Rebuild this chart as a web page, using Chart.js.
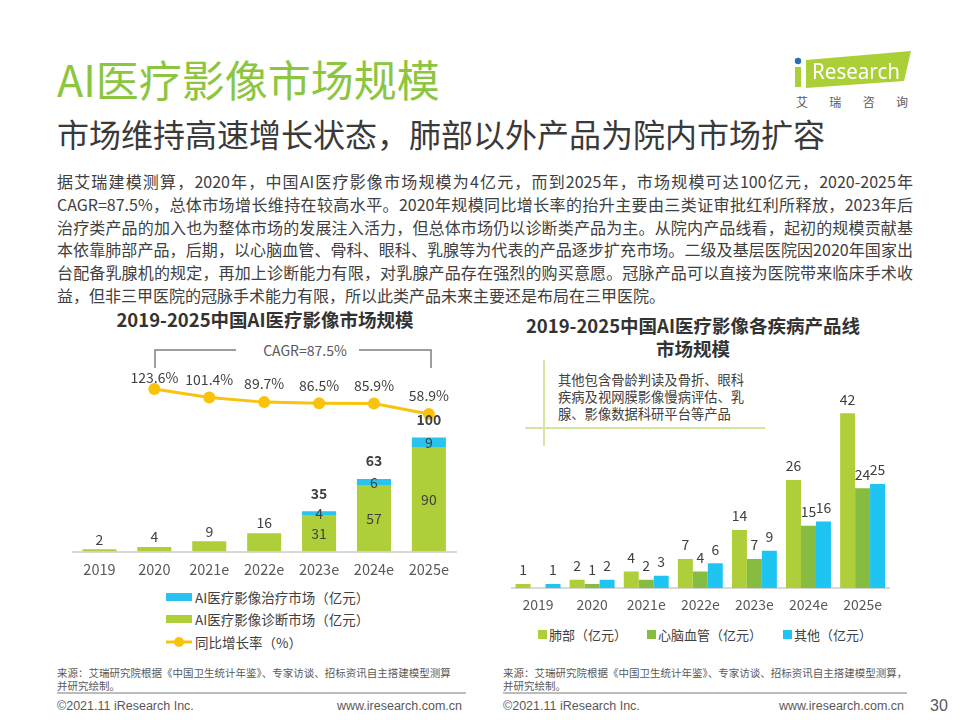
<!DOCTYPE html>
<html>
<head>
<meta charset="utf-8">
<script src="https://cdn.jsdelivr.net/npm/chart.js@4.4.1/dist/chart.umd.min.js"></script>
<style>
body { margin: 0; background: #fff; }
#page { position: relative; width: 960px; height: 720px; overflow: hidden; background: #fff;
  font-family: "Noto Sans CJK SC", "Noto Sans", sans-serif; color: #404040; }
.abs { position: absolute; white-space: nowrap; }
.para div { width: 856px; text-align: justify; text-align-last: justify; height: 22.8px; }
.para div.last { text-align-last: left; }
.lg { position: absolute; display: flex; align-items: center; height: 20px; font-size: 13.5px; white-space: nowrap; }
.foot { font-family: "Liberation Sans Narrow", "Liberation Sans", sans-serif; color: #595959; }
canvas { position: absolute; }
</style>
</head>
<body>
<div id="page">
  <div class="abs" style="left:57px;top:56px;font-size:43px;line-height:44px;color:#8cc63f;">AI医疗影像市场规模</div>
  <div class="abs" style="left:57px;top:116px;font-size:32px;line-height:34px;color:#3a3a3a;">市场维持高速增长状态，肺部以外产品为院内市场扩容</div>

  <div class="abs" style="left:796px;top:94px;width:112px;display:flex;justify-content:space-between;font-size:12px;line-height:16px;color:#595959;">
    <span>艾</span><span>瑞</span><span>咨</span><span>询</span>
  </div>

  <div class="abs para" style="left:57px;top:170px;font-size:16px;line-height:22.8px;color:#404040;white-space:normal;">
    <div>据艾瑞建模测算，2020年，中国AI医疗影像市场规模为4亿元，而到2025年，市场规模可达100亿元，2020-2025年</div>
    <div>CAGR=87.5%，总体市场增长维持在较高水平。2020年规模同比增长率的抬升主要由三类证审批红利所释放，2023年后</div>
    <div>治疗类产品的加入也为整体市场的发展注入活力，但总体市场仍以诊断类产品为主。从院内产品线看，起初的规模贡献基</div>
    <div>本依靠肺部产品，后期，以心脑血管、骨科、眼科、乳腺等为代表的产品逐步扩充市场。二级及基层医院因2020年国家出</div>
    <div>台配备乳腺机的规定，再加上诊断能力有限，对乳腺产品存在强烈的购买意愿。冠脉产品可以直接为医院带来临床手术收</div>
    <div class="last">益，但非三甲医院的冠脉手术能力有限，所以此类产品未来主要还是布局在三甲医院。</div>
  </div>

  <!-- left chart -->
  <div class="abs" style="left:65px;width:400px;text-align:center;top:308px;font-size:18.5px;line-height:22px;font-weight:bold;color:#333;">2019-2025中国AI医疗影像市场规模</div>
  <div class="abs" style="left:255px;width:100px;text-align:center;top:341px;font-size:14px;line-height:18px;color:#595959;background:#fff;">CAGR=87.5%</div>
  <canvas id="leftChart" width="386" height="247" style="left:72px;top:340px;"></canvas>

  <div class="lg" style="left:166px;top:587px;"><span style="display:inline-block;width:26px;height:8px;background:#29c3ee;"></span><span style="margin-left:3px;">AI医疗影像治疗市场（亿元）</span></div>
  <div class="lg" style="left:166px;top:609px;"><span style="display:inline-block;width:26px;height:8px;background:#afcf3a;"></span><span style="margin-left:3px;">AI医疗影像诊断市场（亿元）</span></div>
  <div class="lg" style="left:166px;top:632px;"><svg width="26" height="12"><line x1="0" y1="6" x2="26" y2="6" stroke="#f9c30c" stroke-width="3"/><circle cx="13" cy="6" r="5" fill="#f9c30c"/></svg><span style="margin-left:3px;">同比增长率（%）</span></div>

  <!-- right chart -->
  <div class="abs" style="left:493px;width:400px;text-align:center;top:314px;font-size:18.5px;line-height:22.5px;font-weight:bold;color:#333;">2019-2025中国AI医疗影像各疾病产品线<br>市场规模</div>
  <div class="abs" style="left:558px;top:371px;font-size:13.3px;line-height:17px;color:#404040;">其他包含骨龄判读及骨折、眼科<br>疾病及视网膜影像慢病评估、乳<br>腺、影像数据科研平台等产品</div>
  <canvas id="rightChart" width="379" height="241" style="left:511px;top:380px;"></canvas>

  <div class="lg" style="left:538px;top:624px;font-size:13px;"><span style="display:inline-block;width:9px;height:9px;background:#afcf3a;"></span><span style="margin-left:2px;">肺部（亿元）</span></div>
  <div class="lg" style="left:647px;top:624px;font-size:13px;"><span style="display:inline-block;width:9px;height:9px;background:#86bc42;"></span><span style="margin-left:2px;">心脑血管（亿元）</span></div>
  <div class="lg" style="left:783px;top:624px;font-size:13px;"><span style="display:inline-block;width:9px;height:9px;background:#1ec5f2;"></span><span style="margin-left:2px;">其他（亿元）</span></div>

  <!-- footer -->
  <div class="abs" style="left:57px;top:666px;font-size:10.5px;line-height:13px;color:#595959;">来源：艾瑞研究院根据《中国卫生统计年鉴》、专家访谈、招标资讯自主搭建模型测算<br>并研究绘制。</div>
  <div class="abs" style="left:503px;top:666px;font-size:10.5px;line-height:13px;color:#595959;">来源：艾瑞研究院根据《中国卫生统计年鉴》、专家访谈、招标资讯自主搭建模型测算，<br>并研究绘制。</div>
  <div class="abs foot" style="left:57px;top:698px;font-size:12.5px;line-height:16px;">©2021.11 iResearch Inc.</div>
  <div class="abs foot" style="left:262px;width:200px;text-align:right;top:698px;font-size:12.5px;line-height:16px;">www.iresearch.com.cn</div>
  <div class="abs foot" style="left:503px;top:698px;font-size:12.5px;line-height:16px;">©2021.11 iResearch Inc.</div>
  <div class="abs foot" style="left:704px;width:200px;text-align:right;top:698px;font-size:12.5px;line-height:16px;">www.iresearch.com.cn</div>
  <div class="abs foot" style="left:930px;top:696px;font-size:16px;line-height:20px;">30</div>

  <svg class="abs" width="960" height="720" style="left:0;top:0;pointer-events:none;">
    <!-- logo -->
    <rect x="795" y="67" width="6" height="20" fill="#abd037"/>
    <circle cx="798" cy="61" r="3.2" fill="#2a6fb6"/>
    <polygon points="806,60 911,51 904,81 806,88" fill="#abd037"/>
    <text x="812" y="79" font-size="21" fill="#fff" font-family="Noto Sans, sans-serif" textLength="88" lengthAdjust="spacingAndGlyphs">Research</text>
    <!-- CAGR bracket -->
    <path d="M155 368 V350 H236 M359 350 H431 V368" stroke="#7f7f7f" stroke-width="1.5" fill="none"/>
    <!-- annotation lines -->
    <path d="M544 360 V446 M525 428 H765" stroke="#d5e5a0" stroke-width="2" fill="none"/>
    <!-- footer rules -->
    <path d="M57 693 H466 M503 693 H907" stroke="#a6a6a6" stroke-width="1.5" fill="none"/>
  </svg>
</div>

<script>
// left chart data
const years = ['2019', '2020', '2021e', '2022e', '2023e', '2024e', '2025e']
const diagnosisMarket = [2, 4, 9, 16, 31, 57, 90]
const treatmentMarket = [0, 0, 0, 0, 4, 6, 9]
const marketTotal = [null, null, null, null, 35, 63, 100]
const growthRate = [null, 123.6, 101.4, 89.7, 86.5, 85.9, 58.9]

// right chart data
const lungMarket = [1, 2, 4, 7, 14, 26, 42]
const cardioMarket = [0, 1, 2, 4, 7, 15, 24]
const otherMarket = [1, 2, 3, 6, 9, 16, 25]

const FONT = '"Noto Sans CJK SC", "Noto Sans", sans-serif'
const LIME = '#afcf3a'
const CYAN = '#29c3ee'
const YELLOW = '#f9c30c'

const leftLabels = {
  id: 'leftLabels',
  afterDatasetsDraw(chart) {
    let ctx = chart.ctx
    let diag = chart.getDatasetMeta(0).data
    let treat = chart.getDatasetMeta(1).data
    let pts = chart.getDatasetMeta(2).data
    // keep the rate labels clear of the CAGR bracket
    let minLabelY = 38
    ctx.save()
    ctx.textAlign = 'center'
    ctx.textBaseline = 'middle'
    ctx.fillStyle = '#404040'
    for (let i = 0; i < years.length; i++) {
      ctx.font = '14px ' + FONT
      if (treatmentMarket[i] > 0) {
        ctx.fillText(diagnosisMarket[i], diag[i].x, (diag[i].y + diag[i].base) / 2)
        ctx.fillText(treatmentMarket[i], treat[i].x, (treat[i].y + treat[i].base) / 2)
      } else {
        ctx.fillText(diagnosisMarket[i], diag[i].x, diag[i].y - 10)
      }
      if (marketTotal[i] != null) {
        ctx.font = 'bold 14px ' + FONT
        ctx.fillText(marketTotal[i], treat[i].x, treat[i].y - 18)
      }
      if (growthRate[i] != null) {
        ctx.font = '14px ' + FONT
        ctx.fillText(growthRate[i].toFixed(1) + '%', pts[i].x, Math.max(pts[i].y - 18, minLabelY))
      }
    }
    ctx.restore()
  }
}

const rightLabels = {
  id: 'rightLabels',
  afterDatasetsDraw(chart) {
    let ctx = chart.ctx
    ctx.save()
    ctx.textAlign = 'center'
    ctx.textBaseline = 'middle'
    ctx.fillStyle = '#404040'
    ctx.font = '14px ' + FONT
    chart.data.datasets.forEach(function (ds, d) {
      chart.getDatasetMeta(d).data.forEach(function (bar, i) {
        if (ds.data[i] > 0) ctx.fillText(ds.data[i], bar.x, bar.y - 14)
      })
    })
    ctx.restore()
  }
}

new Chart(document.getElementById('leftChart'), {
  type: 'bar',
  data: {
    labels: years,
    datasets: [
      { label: 'AI医疗影像诊断市场（亿元）', data: diagnosisMarket, backgroundColor: LIME, yAxisID: 'y', order: 2 },
      { label: 'AI医疗影像治疗市场（亿元）', data: treatmentMarket, backgroundColor: CYAN, yAxisID: 'y', order: 2 },
      { type: 'line', label: '同比增长率（%）', data: growthRate, yAxisID: 'y2', order: 1,
        borderColor: YELLOW, backgroundColor: YELLOW, borderWidth: 3,
        pointRadius: 6, pointHoverRadius: 6, pointBorderWidth: 0 }
    ]
  },
  options: {
    responsive: false,
    animation: false,
    layout: { padding: 0, autoPadding: false },
    plugins: { legend: { display: false }, tooltip: { enabled: false } },
    datasets: { bar: { categoryPercentage: 1, barPercentage: 0.62 } },
    scales: {
      x: {
        stacked: true,
        grid: { display: false, drawTicks: false },
        border: { color: '#d9d9d9', width: 2 },
        ticks: { color: '#595959', padding: 9, font: { size: 14.5, family: FONT } }
      },
      y: { stacked: true, display: false, min: 0, max: 183.5 },
      y2: { display: false, min: -296, max: 250 }
    }
  },
  plugins: [leftLabels]
})

new Chart(document.getElementById('rightChart'), {
  type: 'bar',
  data: {
    labels: years,
    datasets: [
      { label: '肺部（亿元）', data: lungMarket, backgroundColor: LIME },
      { label: '心脑血管（亿元）', data: cardioMarket, backgroundColor: '#86bc42' },
      { label: '其他（亿元）', data: otherMarket, backgroundColor: '#1ec5f2' }
    ]
  },
  options: {
    responsive: false,
    animation: false,
    layout: { padding: 0, autoPadding: false },
    plugins: { legend: { display: false }, tooltip: { enabled: false } },
    datasets: { bar: { categoryPercentage: 0.83, barPercentage: 1 } },
    scales: {
      x: {
        grid: { display: false, drawTicks: false },
        border: { color: '#d9d9d9', width: 2 },
        ticks: { color: '#595959', padding: 8, font: { size: 14, family: FONT } }
      },
      y: { display: false, min: 0, max: 50 }
    }
  },
  plugins: [rightLabels]
})
</script>
</body>
</html>
